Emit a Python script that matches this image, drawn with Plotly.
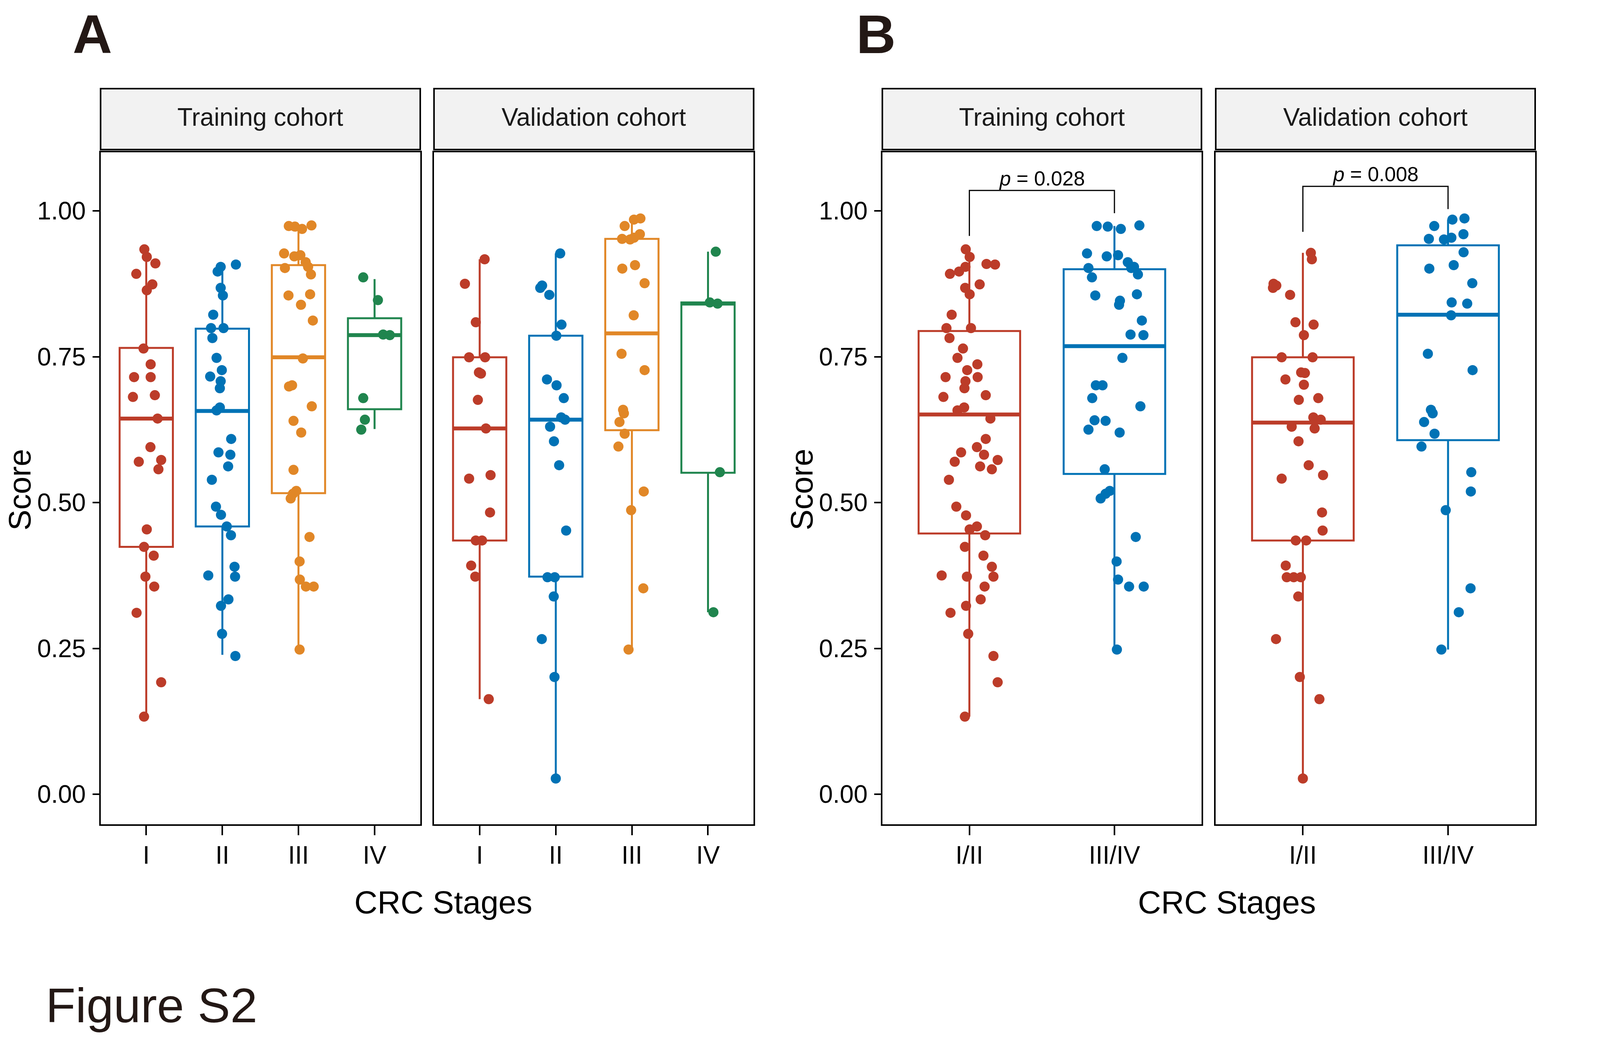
import plotly.graph_objects as go

# reference picture is 6267 x 2666; the browser viewport is 4096 x 2666,
# so the layout is kept in fractions of the reference and drawn at the viewport size
REF_W, REF_H = 6267, 2666
FIG_W, FIG_H = 4096, 2666
FONT = "Arial, Liberation Sans, sans-serif"
RED, BLUE, ORANGE, GREEN = "#BC3C29", "#0072B5", "#E18727", "#20854E"

stages_a = ["I", "II", "III", "IV"]
stages_b = ["I/II", "III/IV"]

# ---- panel A, training cohort (scores + horizontal jitter in category units)
a_train_I = [0.934, 0.921, 0.910, 0.892, 0.874, 0.864, 0.764, 0.737, 0.715, 0.715, 0.681, 0.684, 0.644,
             0.595, 0.570, 0.573, 0.557, 0.454, 0.424, 0.409, 0.373, 0.356, 0.311, 0.192, 0.133]
a_train_I_jit = [-0.025, 0.007, 0.12, -0.131, 0.08, 0.007, -0.036, 0.058, -0.16, 0.058, -0.175, 0.113, 0.149,
                 0.055, -0.098, 0.196, 0.16, 0.007, -0.029, 0.098, -0.011, 0.105, -0.127, 0.196, -0.029]
a_train_II = [0.908, 0.904, 0.896, 0.868, 0.855, 0.822, 0.799, 0.799, 0.782, 0.748, 0.727, 0.716, 0.708,
              0.696, 0.663, 0.658, 0.609, 0.586, 0.582, 0.562, 0.539, 0.493, 0.479, 0.459, 0.444, 0.375,
              0.390, 0.373, 0.334, 0.323, 0.275, 0.237]
a_train_II_jit = [0.178, -0.022, -0.062, -0.022, 0.007, -0.12, -0.149, 0.015, -0.131, -0.076, -0.007, -0.16,
                  -0.022, -0.033, -0.033, -0.076, 0.116, -0.051, 0.105, 0.076, -0.138, -0.084, -0.018, 0.058,
                  0.113, -0.185, 0.16, 0.167, 0.08, -0.018, -0.004, 0.171]
a_train_III = [0.974, 0.973, 0.969, 0.975, 0.927, 0.922, 0.924, 0.912, 0.902, 0.904, 0.891, 0.855, 0.857,
               0.839, 0.812, 0.747, 0.699, 0.701, 0.665, 0.640, 0.620, 0.556, 0.520, 0.515, 0.507, 0.441,
               0.399, 0.368, 0.356, 0.356, 0.248]
a_train_III_jit = [-0.127, -0.047, 0.047, 0.171, -0.189, -0.055, 0.025, 0.095, -0.178, 0.127, 0.164, -0.131,
                   0.153, 0.033, 0.189, 0.058, -0.124, -0.084, 0.175, -0.065, 0.036, -0.065, -0.029, -0.073,
                   -0.102, 0.145, 0.015, 0.018, 0.098, 0.2, 0.015]
a_train_IV = [0.886, 0.847, 0.788, 0.787, 0.679, 0.642, 0.625]
a_train_IV_jit = [-0.149, 0.044, 0.113, 0.2, -0.149, -0.127, -0.175]

# ---- panel A, validation cohort
a_val_I = [0.917, 0.875, 0.809, 0.749, 0.749, 0.723, 0.721, 0.676, 0.627, 0.541, 0.547, 0.483, 0.435,
           0.435, 0.392, 0.373, 0.163]
a_val_I_jit = [0.065, -0.194, -0.051, -0.139, 0.071, -0.01, 0.017, -0.024, 0.082, -0.139, 0.143, 0.136,
               -0.051, 0.031, -0.112, -0.058, 0.119]
a_val_II = [0.927, 0.872, 0.868, 0.856, 0.805, 0.786, 0.711, 0.701, 0.679, 0.646, 0.642, 0.630, 0.605,
            0.564, 0.452, 0.372, 0.372, 0.339, 0.266, 0.201, 0.027]
a_val_II_jit = [0.058, -0.18, -0.204, -0.085, 0.075, 0.007, -0.116, 0.01, 0.105, 0.071, 0.122, -0.075,
                -0.024, 0.044, 0.136, -0.109, -0.014, -0.027, -0.184, -0.017, 0.0]
a_val_III = [0.974, 0.985, 0.987, 0.960, 0.952, 0.951, 0.954, 0.901, 0.907, 0.876, 0.821, 0.755, 0.727,
             0.659, 0.653, 0.638, 0.618, 0.596, 0.519, 0.487, 0.353, 0.248]
a_val_III_jit = [-0.095, 0.027, 0.112, 0.105, -0.129, -0.024, 0.027, -0.126, 0.041, 0.167, 0.024, -0.136,
                 0.167, -0.116, -0.105, -0.163, -0.095, -0.177, 0.156, -0.01, 0.15, -0.044]
a_val_IV = [0.930, 0.843, 0.841, 0.552, 0.312]
a_val_IV_jit = [0.102, 0.024, 0.126, 0.156, 0.071]

# ---- panel B, training cohort
b_train_12 = [0.934, 0.921, 0.904, 0.892, 0.896, 0.909, 0.908, 0.874, 0.868, 0.857, 0.822, 0.799, 0.799,
              0.782, 0.764, 0.748, 0.727, 0.737, 0.715, 0.715, 0.708, 0.696, 0.681, 0.684, 0.663, 0.658,
              0.644, 0.609, 0.595, 0.586, 0.582, 0.570, 0.573, 0.562, 0.557, 0.539, 0.493, 0.478, 0.454,
              0.459, 0.444, 0.424, 0.409, 0.390, 0.375, 0.373, 0.373, 0.356, 0.334, 0.323, 0.311, 0.275,
              0.237, 0.192, 0.133]
b_train_12_jit = [-0.025, 0.002, -0.027, -0.134, -0.071, 0.118, 0.177, 0.071, -0.029, 0.002, -0.122, -0.158,
                  0.011, -0.137, -0.044, -0.082, -0.015, 0.055, -0.164, 0.057, -0.027, -0.034, -0.179, 0.113,
                  -0.036, -0.082, 0.145, 0.113, 0.052, -0.057, 0.101, -0.101, 0.195, 0.074, 0.155, -0.141,
                  -0.09, -0.023, 0.002, 0.052, 0.109, -0.031, 0.097, 0.155, -0.191, -0.017, 0.166, 0.105,
                  0.078, -0.023, -0.13, -0.008, 0.166, 0.195, -0.031]
b_train_34 = [0.974, 0.973, 0.969, 0.975, 0.927, 0.922, 0.924, 0.912, 0.902, 0.904, 0.902, 0.891, 0.886,
              0.855, 0.857, 0.846, 0.839, 0.812, 0.788, 0.787, 0.748, 0.701, 0.701, 0.679, 0.665, 0.641,
              0.640, 0.625, 0.620, 0.557, 0.520, 0.515, 0.507, 0.441, 0.399, 0.368, 0.356, 0.356, 0.248]
b_train_34_jit = [-0.122, -0.046, 0.044, 0.172, -0.189, -0.053, 0.025, 0.092, -0.179, 0.135, 0.116, 0.162,
                  -0.155, -0.132, 0.155, 0.038, 0.032, 0.189, 0.111, 0.2, 0.055, -0.128, -0.082, -0.153,
                  0.179, -0.137, -0.061, -0.179, 0.036, -0.067, -0.032, -0.061, -0.095, 0.147, 0.015, 0.025,
                  0.101, 0.202, 0.017]

# ---- panel B, validation cohort
b_val_12 = [0.928, 0.917, 0.875, 0.872, 0.868, 0.856, 0.809, 0.805, 0.787, 0.749, 0.749, 0.711, 0.723,
            0.722, 0.702, 0.676, 0.679, 0.646, 0.642, 0.627, 0.630, 0.605, 0.564, 0.541, 0.547, 0.483,
            0.452, 0.435, 0.435, 0.392, 0.372, 0.372, 0.372, 0.339, 0.266, 0.201, 0.163, 0.027]
b_val_12_jit = [0.055, 0.062, -0.202, -0.183, -0.206, -0.088, -0.051, 0.074, 0.007, -0.146, 0.067, -0.12,
                -0.012, 0.014, 0.007, -0.028, 0.106, 0.072, 0.123, 0.081, -0.077, -0.03, 0.04, -0.146,
                0.139, 0.132, 0.136, -0.049, 0.023, -0.118, -0.111, -0.063, -0.014, -0.032, -0.185, -0.021,
                0.114, 0.0]
b_val_34 = [0.974, 0.985, 0.987, 0.960, 0.952, 0.951, 0.954, 0.929, 0.901, 0.907, 0.876, 0.843, 0.841,
            0.821, 0.755, 0.727, 0.659, 0.653, 0.638, 0.618, 0.596, 0.552, 0.519, 0.487, 0.353, 0.312, 0.248]
b_val_34_jit = [-0.095, 0.03, 0.113, 0.106, -0.132, -0.028, 0.023, 0.107, -0.129, 0.039, 0.167, 0.025,
                0.132, 0.021, -0.139, 0.169, -0.118, -0.106, -0.165, -0.093, -0.183, 0.16, 0.157, -0.016,
                0.155, 0.074, -0.046]

# box statistics: lower whisker, Q1, median, Q3, upper whisker
a_train_box = [[0.133, 0.424, 0.644, 0.765, 0.934],
               [0.239, 0.459, 0.657, 0.798, 0.905],
               [0.248, 0.516, 0.749, 0.907, 0.972],
               [0.626, 0.660, 0.787, 0.816, 0.883]]
a_val_box = [[0.163, 0.435, 0.627, 0.749, 0.917],
             [0.027, 0.373, 0.642, 0.786, 0.927],
             [0.248, 0.624, 0.790, 0.952, 0.985],
             [0.312, 0.551, 0.841, 0.843, 0.930]]
b_train_box = [[0.133, 0.447, 0.651, 0.794, 0.934],
               [0.248, 0.549, 0.768, 0.900, 0.974]]
b_val_box = [[0.027, 0.435, 0.637, 0.749, 0.928],
             [0.248, 0.607, 0.822, 0.941, 0.985]]

# p-value brackets: (left end, bar height, right end)
b_train_bracket = [0.957, 1.035, 0.996]
b_val_bracket = [0.964, 1.042, 1.003]
p_labels = ["0.028", "0.008"]


def fx(x):
    return x / REF_W


def fy(y):
    return 1 - y / REF_H


fig = go.Figure()

panels = [
    dict(n=1, left=394, right=1646, cats=stages_a, strip="Training cohort",
         groups=[(a_train_I, a_train_I_jit), (a_train_II, a_train_II_jit),
                 (a_train_III, a_train_III_jit), (a_train_IV, a_train_IV_jit)],
         boxes=a_train_box, colors=[RED, BLUE, ORANGE, GREEN], yticks=True),
    dict(n=2, left=1700, right=2952, cats=stages_a, strip="Validation cohort",
         groups=[(a_val_I, a_val_I_jit), (a_val_II, a_val_II_jit),
                 (a_val_III, a_val_III_jit), (a_val_IV, a_val_IV_jit)],
         boxes=a_val_box, colors=[RED, BLUE, ORANGE, GREEN], yticks=False),
    dict(n=3, left=3456, right=4706, cats=stages_b, strip="Training cohort",
         groups=[(b_train_12, b_train_12_jit), (b_train_34, b_train_34_jit)],
         boxes=b_train_box, colors=[RED, BLUE], yticks=True),
    dict(n=4, left=4762, right=6013, cats=stages_b, strip="Validation cohort",
         groups=[(b_val_12, b_val_12_jit), (b_val_34, b_val_34_jit)],
         boxes=b_val_box, colors=[RED, BLUE], yticks=False),
]

PLOT_TOP, PLOT_BOTTOM = 390, 2111
STRIP_TOP, STRIP_BOTTOM = 227, 383
BOX_W = 0.7
TICK_FONT = dict(family=FONT, size=64, color="black")
layout_axes = {}

for p in panels:
    n = p["n"]
    xa = "x" if n == 1 else f"x{n}"
    ya = "y" if n == 1 else f"y{n}"
    for i, (box, col) in enumerate(zip(p["boxes"], p["colors"])):
        pos = i + 1
        lo, q1, med, q3, hi = box
        fig.add_trace(go.Box(
            x=[pos], q1=[q1], median=[med], q3=[q3], lowerfence=[lo], upperfence=[hi],
            width=BOX_W, whiskerwidth=0, boxpoints=False,
            line=dict(color=col, width=5), fillcolor="rgba(255,255,255,0)",
            xaxis=xa, yaxis=ya, showlegend=False, hoverinfo="skip"))
        # thicker median bar, as ggplot draws it
        fig.add_trace(go.Scatter(
            x=[pos - BOX_W / 2, pos + BOX_W / 2], y=[med, med], mode="lines",
            line=dict(color=col, width=10), xaxis=xa, yaxis=ya,
            showlegend=False, hoverinfo="skip"))
    for i, ((vals, jit), col) in enumerate(zip(p["groups"], p["colors"])):
        pos = i + 1
        fig.add_trace(go.Scatter(
            x=[pos + j for j in jit], y=vals, mode="markers",
            marker=dict(color=col, size=26, line=dict(width=0)),
            xaxis=xa, yaxis=ya, showlegend=False, hoverinfo="skip"))

    ncat = len(p["cats"])
    key = "" if n == 1 else str(n)
    layout_axes[f"xaxis{key}"] = dict(
        domain=[fx(p["left"]), fx(p["right"])], anchor=ya, range=[0.4, ncat + 0.6],
        tickvals=list(range(1, ncat + 1)), ticktext=p["cats"],
        showgrid=False, zeroline=False, showline=True, mirror=True,
        linecolor="black", linewidth=4, ticks="outside", ticklen=24, tickwidth=4,
        tickcolor="black", ticklabelstandoff=-4, tickfont=TICK_FONT)
    layout_axes[f"yaxis{key}"] = dict(
        domain=[fy(PLOT_BOTTOM), fy(PLOT_TOP)], anchor=xa, range=[-0.0515, 1.1004],
        tickvals=[0, 0.25, 0.5, 0.75, 1.0], ticktext=["0.00", "0.25", "0.50", "0.75", "1.00"],
        showticklabels=p["yticks"], ticks="outside" if p["yticks"] else "",
        ticklen=17, tickwidth=4, tickcolor="black", ticklabelstandoff=4,
        showgrid=False, zeroline=False, showline=True, mirror=True,
        linecolor="black", linewidth=4, tickfont=TICK_FONT)

    # facet strip
    fig.add_shape(type="rect", xref=f"{xa} domain", yref="paper",
                  x0=0, x1=1, y0=fy(STRIP_BOTTOM), y1=fy(STRIP_TOP),
                  fillcolor="#F2F2F2", line=dict(color="black", width=4), layer="below")
    fig.add_annotation(xref=f"{xa} domain", yref="paper", x=0.5, y=fy(300),
                       text=p["strip"], showarrow=False, xanchor="center", yanchor="middle",
                       font=dict(family=FONT, size=64, color="#1A1A1A"))

# significance brackets in panel B
for (xa, ya, br, lab) in [("x3", "y3", b_train_bracket, p_labels[0]),
                          ("x4", "y4", b_val_bracket, p_labels[1])]:
    fig.add_trace(go.Scatter(
        x=[1, 1, 2, 2], y=[br[0], br[1], br[1], br[2]], mode="lines",
        line=dict(color="black", width=3), xaxis=xa, yaxis=ya,
        showlegend=False, hoverinfo="skip"))
    fig.add_annotation(xref=xa, yref=ya, x=1.5, y=br[1], text=f"<i>p</i> = {lab}",
                       showarrow=False, xanchor="center", yanchor="bottom", yshift=0,
                       font=dict(family=FONT, size=52, color="black"))

# axis titles, panel letters, figure caption
for cx in [76, 3140]:
    fig.add_annotation(xref="paper", yref="paper", x=fx(cx), y=fy(1254), text="Score",
                       textangle=-90, showarrow=False, xanchor="center", yanchor="middle",
                       font=dict(family=FONT, size=80, color="black"))
for cx in [1736, 4806]:
    fig.add_annotation(xref="paper", yref="paper", x=fx(cx), y=fy(2310), text="CRC Stages",
                       showarrow=False, xanchor="center", yanchor="middle",
                       font=dict(family=FONT, size=82, color="black"))
for lx, lab in [(294, "A"), (3363, "B")]:
    fig.add_annotation(xref="paper", yref="paper", x=fx(lx), y=fy(88), text=f"<b>{lab}</b>",
                       showarrow=False, xanchor="left", yanchor="middle", xshift=-8,
                       font=dict(family=FONT, size=140, color="#231815"))
fig.add_annotation(xref="paper", yref="paper", x=fx(191), y=fy(2574), text="Figure S2",
                   showarrow=False, xanchor="left", yanchor="middle", xshift=-10,
                   font=dict(family=FONT, size=125, color="#231815"))

fig.update_layout(
    width=FIG_W, height=FIG_H, margin=dict(l=0, r=0, t=0, b=0),
    paper_bgcolor="white", plot_bgcolor="white", showlegend=False,
    **layout_axes)

fig.write_html("out.html", config={"displayModeBar": False},
               post_script="document.body.style.margin = '0';")
